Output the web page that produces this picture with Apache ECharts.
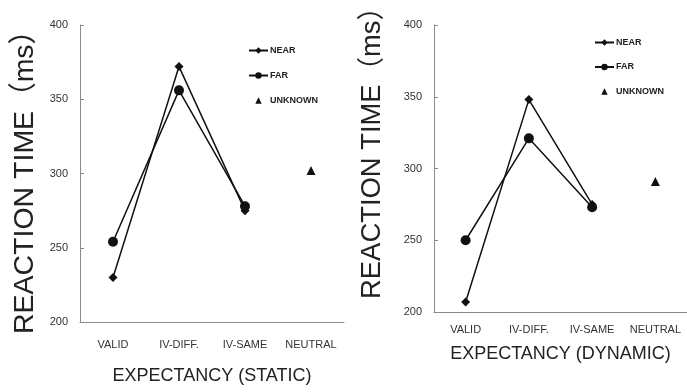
<!DOCTYPE html>
<html><head><meta charset="utf-8">
<script src="https://cdn.jsdelivr.net/npm/echarts@6/dist/echarts.min.js"></script>
<style>html,body{margin:0;padding:0;background:#fff}#c{width:687px;height:392px}</style>
</head><body><div id="c"></div>
<script>
const categories = ['VALID', 'IV-DIFF.', 'IV-SAME', 'NEUTRAL'];
const yTicks = [200, 250, 300, 350, 400];
const staticNear = [230, 372, 275, null];
const staticFar = [254, 356, 278, null];
const staticUnknown = [null, null, null, 302];
const dynamicNear = [207, 348, 275, null];
const dynamicFar = [250, 321, 273, null];
const dynamicUnknown = [null, null, null, 291];

const FONT = '"Liberation Sans", Arial, sans-serif';
const axisGray = '#8a8a8a';
const ink = '#111';

function xAx(idx, title, margin, gap) {
  return {
    type: 'category', gridIndex: idx, data: categories, boundaryGap: true,
    axisLine: {lineStyle: {color: axisGray, width: 1}},
    axisTick: {inside: true, length: 4, lineStyle: {color: axisGray}},
    axisLabel: {interval: 0, fontFamily: FONT, fontSize: 11, color: '#333', margin: margin},
    name: title, nameLocation: 'middle', nameGap: gap,
    nameTextStyle: {fontFamily: FONT, fontSize: 18, color: '#222'}
  };
}
function yAx(idx, gap, fs, pad) {
  return {
    type: 'value', gridIndex: idx, min: yTicks[0], max: yTicks[yTicks.length - 1], interval: 50,
    axisLine: {show: true, lineStyle: {color: axisGray, width: 1}},
    axisTick: {show: true, inside: true, length: 4, lineStyle: {color: axisGray}},
    splitLine: {show: false},
    axisLabel: {fontFamily: FONT, fontSize: 11, color: '#333', margin: 12},
    name: 'REACTION TIME（ms）', nameLocation: 'middle', nameRotate: 90, nameGap: gap,
    nameTextStyle: {fontFamily: FONT + ', "Noto Sans CJK JP"', fontSize: fs, color: '#222', padding: pad}
  };
}
function lineS(name, data, idx, symbol, size) {
  return {
    name: name, type: 'line', xAxisIndex: idx, yAxisIndex: idx, data: data,
    symbol: symbol, symbolSize: size, connectNulls: false,
    lineStyle: {color: ink, width: 1.5}, itemStyle: {color: ink},
    emphasis: {disabled: true}, animation: false
  };
}
function unkS(data, idx) {
  return {
    name: 'UNKNOWN', type: 'line', xAxisIndex: idx, yAxisIndex: idx, data: data,
    symbol: 'triangle', symbolSize: 9, showSymbol: true,
    lineStyle: {width: 0, opacity: 0}, itemStyle: {color: ink},
    emphasis: {disabled: true}, animation: false
  };
}
function legend(left, top, gap) {
  return {
    left: left, top: top, orient: 'vertical', itemWidth: 19, itemHeight: 8, itemGap: gap,
    textStyle: {fontFamily: FONT, fontSize: 9, fontWeight: 'bold', color: '#222', padding: [0, 0, 0, -3]},
    data: ['NEAR', 'FAR', 'UNKNOWN'],
    selectedMode: false
  };
}

const chart = echarts.init(document.getElementById('c'), null, {renderer: 'canvas'});
chart.setOption({
  backgroundColor: '#fff',
  animation: false,
  grid: [
    {left: 80, top: 25, width: 264, height: 297, containLabel: false, outerBoundsMode: 'none'},
    {left: 434, top: 25, width: 253, height: 287, containLabel: false, outerBoundsMode: 'none'}
  ],
  xAxis: [xAx(0, 'EXPECTANCY (STATIC)', 17, 45), xAx(1, 'EXPECTANCY (DYNAMIC)', 12, 33)],
  yAxis: [yAx(0, 41, 28.5, [0, 3, 0, 0]), yAx(1, 48, 27.4, [0, 0, 0, 45])],
  legend: [legend(243, 41, 16), legend(589, 33, 15.5)],
  series: [
    lineS('NEAR', staticNear, 0, 'diamond', 9),
    lineS('FAR', staticFar, 0, 'circle', 10),
    unkS(staticUnknown, 0),
    lineS('NEAR', dynamicNear, 1, 'diamond', 9),
    lineS('FAR', dynamicFar, 1, 'circle', 10),
    unkS(dynamicUnknown, 1)
  ]
});
</script></body></html>
